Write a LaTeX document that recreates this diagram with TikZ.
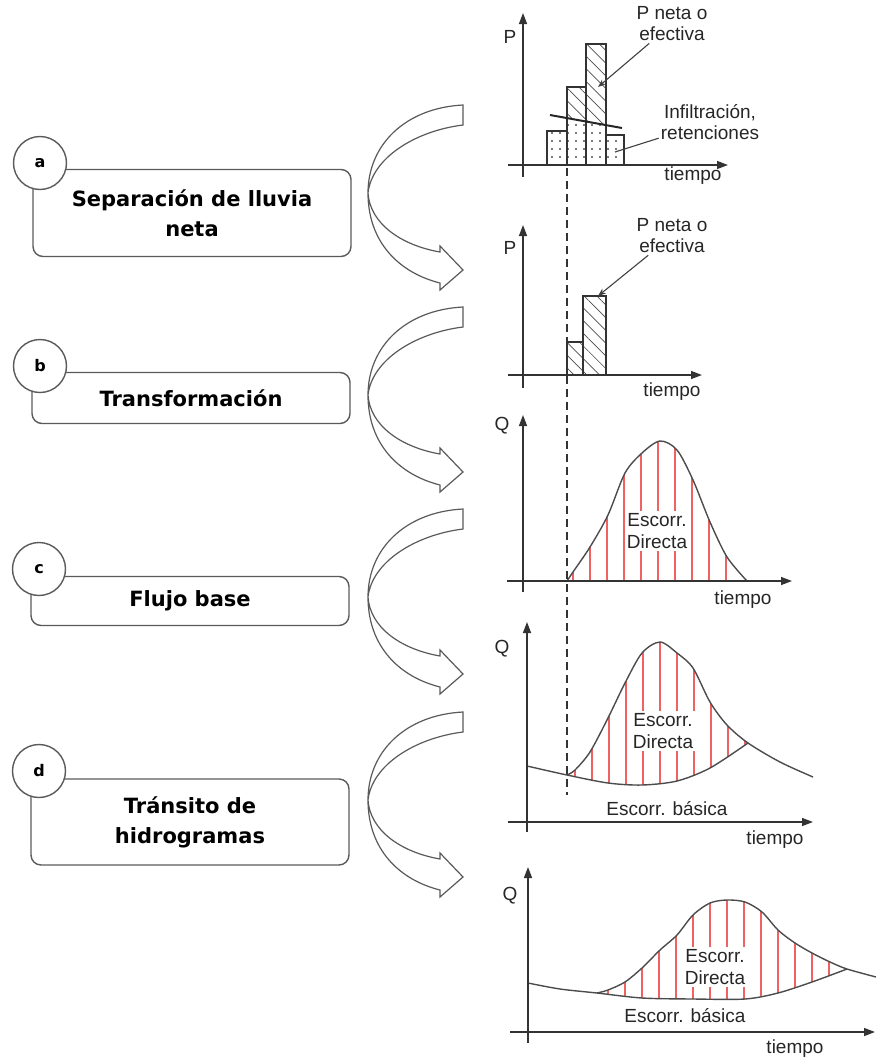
\documentclass[tikz,border=0pt]{standalone}
\usepackage{fontspec}
\setmainfont{Liberation Sans}
\newfontfamily\stepfont{DejaVu Sans}
\usetikzlibrary{arrows.meta,patterns.meta}

\definecolor{framegray}{HTML}{5A5A5A}
\definecolor{runoffred}{HTML}{F06262}

\tikzset{
  taskbox/.style={draw=framegray, line width=1.4pt, rounded corners=10pt,
    minimum width=318pt, align=center, inner sep=0pt,
    font=\stepfont\bfseries\fontsize{21}{30}\selectfont},
  steptag/.style={circle, draw=framegray, line width=1.4pt, fill=white,
    minimum size=53pt, inner sep=0pt, font=\stepfont\bfseries\fontsize{16}{18}\selectfont},
  curvearrow/.style={draw=framegray, line width=1.2pt, fill=white},
  axisline/.style={draw=black!80, line width=1.4pt, -{Triangle[length=11pt,width=8pt]}},
  chartlbl/.style={inner sep=2pt, align=center, text=black!85,
    font=\fontsize{19}{21}\selectfont},
  bar/.style={draw=black!80, line width=1.2pt},
  netrain/.style={pattern={Lines[angle=-45,distance=9pt,line width=0.7pt]}, pattern color=black!70},
  losses/.style={pattern={Dots[radius=1.1pt,distance=8pt]}, pattern color=black!70},
  leader/.style={draw=black!75, line width=1.1pt},
  hydro/.style={draw=black!70, line width=1.4pt},
  runoff/.style={draw=runoffred, line width=2.4pt},
  startline/.style={draw=black!80, line width=1.2pt, dash pattern=on 8pt off 5pt}
}

\begin{document}
\begin{tikzpicture}[x=1pt, y=-1pt]
  \useasboundingbox (0,0) rectangle (876,1061);

  % ---- steps on the left
  \node[taskbox, minimum height=87pt] (sepbox) at (192,213) {Separación de lluvia\\neta};
  \node[taskbox, minimum height=51pt] (trabox) at (191,398) {Transformación};
  \node[taskbox, minimum height=49pt] (basbox) at (190,601) {Flujo base};
  \node[taskbox, minimum height=86pt] (trnbox) at (190,822) {Tránsito de\\hidrogramas};
  \node[steptag] (taga) at (40,163) {a};
  \node[steptag] (tagb) at (40,366) {b};
  \node[steptag] (tagc) at (39,569) {c};
  \node[steptag] (tagd) at (39,771) {d};

  % ---- curved block arrows
  \foreach \y in {193,395,597,800} {
    \begin{scope}[shift={(0,\y)}]
      \draw[curvearrow] (463,-88) -- (463,-68)
        .. controls (415,-62) and (372,-35) .. (368,0)
        .. controls (370,30) and (400,52) .. (440,59)
        -- (440,53) -- (463,77) -- (440,97) -- (440,90)
        .. controls (400,80) and (368,50) .. (368,0)
        .. controls (368,-48) and (405,-85) .. (463,-88) -- cycle;
    \end{scope}
  }

  % ---- chart 1: rainfall and losses
  \path[losses] (547,131) rectangle (567,165);
  \path[losses] (567,118) -- (586,121.5) -- (586,165) -- (567,165) -- cycle;
  \path[losses] (586,121.5) -- (606,125) -- (606,165) -- (586,165) -- cycle;
  \path[losses] (606,135) rectangle (624,165);
  \path[netrain] (567,87) -- (586,87) -- (586,121.5) -- (567,118) -- cycle;
  \path[netrain] (586,44) -- (606,44) -- (606,125) -- (586,121.5) -- cycle;
  \foreach \l/\r/\t in {547/567/131,567/586/87,586/606/44,606/624/135} { \draw[bar] (\l,\t) rectangle (\r,165); }
  \draw[black!85, line width=2pt] (550,115) -- (622,128);
  \draw[axisline] (508,165) -- (728,165);
  \draw[axisline] (523,177) -- (523,13);
  \node[chartlbl] (p1) at (510,37) {P};
  \node[chartlbl] (time1) at (693,176) {tiempo};
  \node[chartlbl] (net1) at (672,24) {P neta o\\efectiva};
  \node[chartlbl] (loss1) at (710,122) {Infiltración,\\retenciones};
  \coordinate (netpt1) at (598,87);
  \coordinate (losspt1) at (615,152);
  \draw[leader, -{Stealth[length=8pt,width=6pt]}] (net1) -- (netpt1);
  \draw[leader] (loss1) -- (losspt1);

  % ---- chart 2: net rainfall
  \path[netrain] (567,342) rectangle (583,375);
  \path[netrain] (583,296) rectangle (606,375);
  \draw[bar] (567,342) rectangle (583,375);
  \draw[bar] (583,296) rectangle (606,375);
  \draw[axisline] (508,375) -- (702,375);
  \draw[axisline] (523,388) -- (523,225);
  \node[chartlbl] (p2) at (510,248) {P};
  \node[chartlbl] (time2) at (672,392) {tiempo};
  \node[chartlbl] (net2) at (672,236) {P neta o\\efectiva};
  \coordinate (netpt2) at (598,296);
  \draw[leader, -{Stealth[length=8pt,width=6pt]}] (net2) -- (netpt2);

  % ---- chart 3: direct runoff
  \begin{scope}
    \clip plot[smooth] coordinates {(567,581) (573,572) (590,547) (608,515) (625,473) (642,453) (660,441) (677,450) (693,480) (710,522) (727,557) (747,581)} -- cycle;
    \foreach \x in {573,590,...,727} { \draw[runoff] (\x,581) -- (\x,430); }
  \end{scope}
  \draw[hydro] plot[smooth] coordinates {(567,581) (573,572) (590,547) (608,515) (625,473) (642,453) (660,441) (677,450) (693,480) (710,522) (727,557) (747,581)};
  \draw[axisline] (507,581) -- (792,581);
  \draw[axisline] (523,592) -- (523,415);
  \node[chartlbl] (q3) at (502,426) {Q};
  \node[chartlbl] (time3) at (743,600) {tiempo};
  \node[chartlbl, fill=white, font=\fontsize{19}{22}\selectfont] (dir3) at (657,531) {Escorr.\\Directa};

  % ---- chart 4: direct runoff over base flow
  \begin{scope}
    \clip plot[smooth] coordinates {(567,775) (575,770) (590,752) (608,718) (625,683) (642,653) (660,642) (677,653) (693,668) (710,702) (727,725) (748,743)}
      -- plot[smooth] coordinates {(748,743) (710,768) (677,781) (642,785) (608,783) (567,775)} -- cycle;
    \foreach \x in {575,592,...,745} { \draw[runoff] (\x,800) -- (\x,630); }
  \end{scope}
  \draw[hydro] plot[smooth] coordinates {(567,775) (575,770) (590,752) (608,718) (625,683) (642,653) (660,642) (677,653) (693,668) (710,702) (727,725) (748,743) (780,762) (813,777)};
  \draw[hydro] plot[smooth] coordinates {(527,766) (567,775) (608,783) (642,785) (677,781) (710,768) (748,743)};
  \draw[axisline] (508,822) -- (813,822);
  \draw[axisline] (527,832) -- (527,622);
  \node[chartlbl] (q4) at (502,649) {Q};
  \node[chartlbl] (time4) at (775,840) {tiempo};
  \node[chartlbl, fill=white, font=\fontsize{19}{22}\selectfont] (dir4) at (663,731) {Escorr.\\Directa};
  \node[chartlbl] (base4) at (667,809) {Escorr. básica};

  % ---- dashed start of net rainfall
  \coordinate (start1) at (567,168);
  \coordinate (start2) at (567,795);
  \draw[startline] (start1) -- (start2);

  % ---- chart 5: routed hydrograph
  \begin{scope}
    \clip plot[smooth] coordinates {(597,993) (608,990) (625,982) (642,968) (660,950) (677,935) (693,915) (710,903) (727,900) (745,902) (762,912) (778,930) (795,943) (812,953) (830,962) (847,969)}
      -- plot[smooth] coordinates {(847,969) (812,982) (778,993) (745,999) (693,999) (642,998) (597,993)} -- cycle;
    \foreach \x in {608,625,...,847} { \draw[runoff] (\x,1010) -- (\x,890); }
  \end{scope}
  \draw[hydro] plot[smooth] coordinates {(597,993) (608,990) (625,982) (642,968) (660,950) (677,935) (693,915) (710,903) (727,900) (745,902) (762,912) (778,930) (795,943) (812,953) (830,962) (847,969) (876,977)};
  \draw[hydro] plot[smooth] coordinates {(528,983) (560,989) (597,993) (642,998) (693,999) (745,999) (778,993) (812,982) (847,969)};
  \draw[axisline] (510,1032) -- (875,1032);
  \draw[axisline] (528,1043) -- (528,867);
  \node[chartlbl] (q5) at (510,896) {Q};
  \node[chartlbl] (time5) at (795,1049) {tiempo};
  \node[chartlbl, fill=white, font=\fontsize{19}{22}\selectfont] (dir5) at (715,967) {Escorr.\\Directa};
  \node[chartlbl] (base5) at (685,1016) {Escorr. básica};
\end{tikzpicture}
\end{document}
